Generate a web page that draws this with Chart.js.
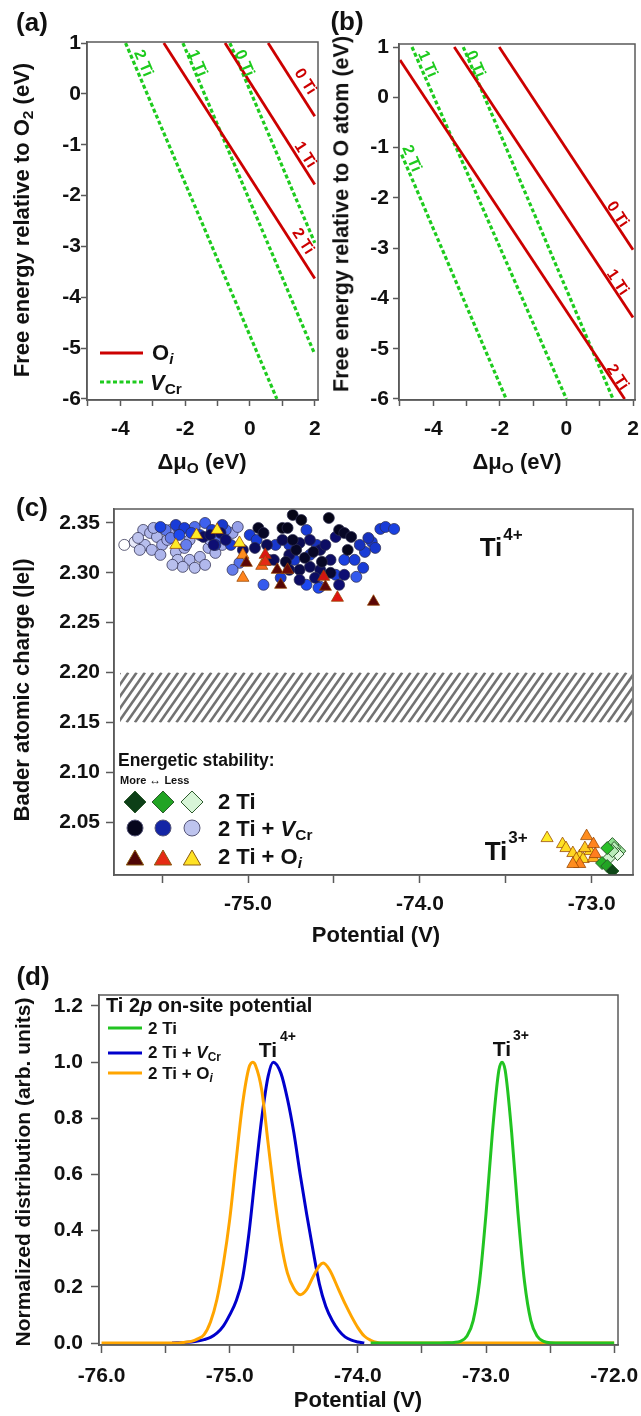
<!DOCTYPE html>
<html>
<head>
<meta charset="utf-8">
<script src="https://cdn.jsdelivr.net/npm/chart.js@4.4.0/dist/chart.umd.min.js"></script>
<style>
  body { margin: 0; background: #fff; width: 641px; height: 1416px; position: relative; overflow: hidden;
         font-family: "Liberation Sans", Arial, sans-serif; font-weight: bold; color: #111; }
  canvas { position: absolute; }
  .t { position: absolute; transform: translate(-50%, -50%); white-space: nowrap; line-height: 1; z-index: 2; }
  .l { position: absolute; transform: translate(0, -50%); white-space: nowrap; line-height: 1; z-index: 2; }
  .v { transform: translate(-50%, -50%) rotate(-90deg); }
  sub { font-size: 0.7em; vertical-align: -0.28em; line-height: 0; }
</style>
</head>
<body>
<canvas id="chartA" style="left:0;top:0;width:320px;height:480px" width="320" height="480"></canvas>
<canvas id="chartB" style="left:320px;top:0;width:321px;height:480px" width="321" height="480"></canvas>
<canvas id="chartC" style="left:0;top:480px;width:641px;height:470px" width="641" height="470"></canvas>
<canvas id="chartD" style="left:0;top:950px;width:641px;height:466px" width="641" height="466"></canvas>

<div class="t" style="left:32px;top:22px;font-size:26px">(a)</div>
<div class="t" style="left:347px;top:21px;font-size:26px">(b)</div>
<div class="t" style="left:32px;top:507px;font-size:26px">(c)</div>
<div class="t" style="left:33px;top:976px;font-size:26px">(d)</div>

<div class="t v" style="left:22px;top:220px;font-size:22px">Free energy relative to O<sub>2</sub> (eV)</div>
<div class="t" style="left:202px;top:462px;font-size:22px">Δμ<sub>O</sub> (eV)</div>
<div class="l" style="left:152px;top:353px;font-size:22px">O<sub><i>i</i></sub></div>
<div class="l" style="left:150px;top:383px;font-size:22px"><i>V</i><sub>Cr</sub></div>

<div class="t v" style="left:342px;top:214px;font-size:21.5px">Free energy relative to O atom (eV)</div>
<div class="t" style="left:517px;top:462px;font-size:22px">Δμ<sub>O</sub> (eV)</div>

<div class="t v" style="left:22px;top:690px;font-size:22px">Bader atomic charge (|e|)</div>
<div class="t" style="left:376px;top:935px;font-size:22px">Potential (V)</div>
<div class="t" style="left:491px;top:547px;font-size:26px">Ti</div>
<div class="t" style="left:513px;top:534px;font-size:17px">4+</div>
<div class="t" style="left:496px;top:851px;font-size:26px">Ti</div>
<div class="t" style="left:518px;top:837px;font-size:17px">3+</div>
<div class="l" style="left:118px;top:761px;font-size:17.5px">Energetic stability:</div>
<div class="l" style="left:120px;top:780px;font-size:11px">More <span style="font-size:12px">↔</span> Less</div>
<div class="l" style="left:218px;top:802px;font-size:22px">2 Ti</div>
<div class="l" style="left:218px;top:829px;font-size:22px">2 Ti + <i>V</i><sub>Cr</sub></div>
<div class="l" style="left:218px;top:857px;font-size:22px">2 Ti + O<sub><i>i</i></sub></div>

<div class="t v" style="left:22px;top:1172px;font-size:21px">Normalized distribution (arb. units)</div>
<div class="t" style="left:358px;top:1400px;font-size:22px">Potential (V)</div>
<div class="l" style="left:106px;top:1005px;font-size:20px">Ti 2<i>p</i> on-site potential</div>
<div class="l" style="left:148px;top:1028px;font-size:17px">2 Ti</div>
<div class="l" style="left:148px;top:1052px;font-size:17px">2 Ti + <i>V</i><sub>Cr</sub></div>
<div class="l" style="left:148px;top:1073px;font-size:17px">2 Ti + O<sub><i>i</i></sub></div>
<div class="t" style="left:268px;top:1049px;font-size:21px">Ti</div>
<div class="t" style="left:288px;top:1036px;font-size:14px">4+</div>
<div class="t" style="left:502px;top:1048px;font-size:21px">Ti</div>
<div class="t" style="left:521px;top:1035px;font-size:14px">3+</div>

<script>
"use strict"

// ---- (a) / (b): formation free energy lines, each as [x0, y0, x1, y1] in eV ----
const tiCounts = ['0 Ti', '1 Ti', '2 Ti'];
const aOiLines = [[0.56, 1, 2, -0.44], [-0.77, 1, 2, -1.78], [-2.66, 1, 2, -3.63]];
const aVcrLines = [[-0.62, 1, 2, -2.93], [-2.07, 1, 2, -5.12], [-3.84, 1, 0.83, -6]];
const bOiLines = [[-2.02, 1, 2, -3.03], [-3.37, 1, 2, -4.38], [-5.0, 0.74, 1.75, -6]];
const bVcrLines = [[-3.1, 1, 1.4, -6], [-4.64, 1, 0, -6], [-4.95, -1.14, -1.81, -6]];
const abXTicks = [-5, -4, -3, -2, -1, 0, 1, 2];
const abYTicks = [-6, -5, -4, -3, -2, -1, 0, 1];

// ---- (c): Bader charge vs potential; s = stability (0 more stable .. 1 less stable) ----
const vcrX = [-75.72, -75.66, -75.61, -75.57, -75.53, -75.60, -75.63, -75.56, -75.50, -75.47,
  -75.42, -75.37, -75.41, -75.34, -75.28, -75.23, -75.19, -75.15, -75.31, -75.38,
  -75.44, -75.25, -75.51, -75.64, -75.09, -75.06, -75.22, -75.34, -75.55, -75.45,
  -75.48, -75.40, -75.31, -75.25, -75.45, -75.36, -75.17, -75.13, -75.05, -75.09,
  -74.91, -74.58, -75.51, -75.42, -75.37, -75.28, -75.21, -75.15, -75.40, -75.33,
  -75.10, -75.19, -74.99, -74.95, -74.88, -74.84, -74.76, -74.73, -74.64, -74.66,
  -74.60, -74.49, -74.44, -74.38, -74.33, -74.37, -74.28, -74.26, -74.32, -74.23,
  -74.20, -74.15, -74.30, -74.35, -74.66, -74.59, -74.81, -75.26, -75.22, -75.16,
  -75.13, -75.20, -75.03, -74.96, -74.89, -74.80, -74.76, -74.70, -74.64, -74.58,
  -74.76, -74.70, -74.64, -74.58, -74.52, -74.55, -74.49, -74.70, -74.61, -74.85,
  -74.44, -74.47, -74.74, -74.69, -74.53, -74.94, -74.80, -74.77, -74.91, -74.47,
  -74.44, -74.40, -74.42, -74.72, -74.67, -74.78, -74.57, -74.62, -74.52, -74.74];
const vcrY = [2.328, 2.331, 2.343, 2.340, 2.336, 2.328, 2.323, 2.323, 2.328, 2.333,
  2.321, 2.325, 2.313, 2.313, 2.316, 2.325, 2.320, 2.328, 2.305, 2.306,
  2.308, 2.308, 2.318, 2.335, 2.340, 2.346, 2.333, 2.333, 2.345, 2.343,
  2.343, 2.343, 2.346, 2.350, 2.335, 2.328, 2.335, 2.343, 2.310, 2.303,
  2.288, 2.286, 2.346, 2.348, 2.345, 2.338, 2.343, 2.348, 2.338, 2.340,
  2.328, 2.328, 2.338, 2.333, 2.313, 2.328, 2.328, 2.313, 2.318, 2.343,
  2.328, 2.298, 2.313, 2.313, 2.305, 2.296, 2.331, 2.325, 2.321, 2.344,
  2.346, 2.344, 2.335, 2.328, 2.288, 2.285, 2.295, 2.336, 2.338, 2.340,
  2.333, 2.328, 2.323, 2.325, 2.328, 2.333, 2.318, 2.330, 2.333, 2.323,
  2.303, 2.303, 2.306, 2.303, 2.313, 2.328, 2.336, 2.293, 2.295, 2.313,
  2.298, 2.288, 2.358, 2.353, 2.355, 2.345, 2.345, 2.345, 2.340, 2.343,
  2.340, 2.336, 2.323, 2.323, 2.315, 2.311, 2.311, 2.321, 2.300, 2.333];
const vcrS = [1.0, 0.97, 0.9, 0.88, 0.88, 0.9, 0.92, 0.88, 0.85, 0.85,
  0.88, 0.86, 0.9, 0.88, 0.88, 0.85, 0.87, 0.85, 0.9, 0.9,
  0.9, 0.88, 0.87, 0.92, 0.82, 0.8, 0.84, 0.84, 0.86, 0.84,
  0.68, 0.65, 0.66, 0.62, 0.7, 0.7, 0.66, 0.64, 0.66, 0.7,
  0.6, 0.62, 0.52, 0.5, 0.5, 0.48, 0.5, 0.48, 0.55, 0.52,
  0.5, 0.45, 0.5, 0.5, 0.5, 0.48, 0.45, 0.48, 0.5, 0.5,
  0.45, 0.5, 0.52, 0.5, 0.5, 0.6, 0.5, 0.48, 0.5, 0.5,
  0.5, 0.52, 0.45, 0.45, 0.55, 0.55, 0.5, 0.25, 0.22, 0.25,
  0.28, 0.3, 0.25, 0.22, 0.2, 0.2, 0.22, 0.2, 0.25, 0.22,
  0.2, 0.15, 0.2, 0.22, 0.25, 0.25, 0.28, 0.25, 0.25, 0.22,
  0.3, 0.3, 0.0, 0.0, 0.0, 0.03, 0.0, 0.02, 0.05, 0.03,
  0.05, 0.05, 0.02, 0.05, 0.05, 0.08, 0.05, 0.05, 0.08, 0.05];

const oiX = [-75.42, -75.30, -75.18, -75.05, -75.03, -75.03, -74.92, -74.90, -74.90, -74.56,
  -74.48, -75.01, -74.83, -74.81, -74.77, -74.55, -74.27,
  -73.26, -73.17, -73.15, -73.11, -73.07, -73.09, -73.05, -73.01, -73.04, -72.99,
  -73.03, -72.99, -72.98, -73.07, -73.11];
const oiY = [2.328, 2.338, 2.343, 2.330, 2.318, 2.295, 2.307, 2.318, 2.311, 2.296,
  2.275, 2.310, 2.303, 2.288, 2.303, 2.286, 2.271,
  2.034, 2.028, 2.024, 2.019, 2.016, 2.013, 2.013, 2.021, 2.024, 2.014,
  2.036, 2.028, 2.018, 2.008, 2.008];
const oiS = [0.95, 0.95, 0.95, 0.95, 0.65, 0.62, 0.55, 0.35, 0.4, 0.32,
  0.35, 0.05, 0.05, 0.03, 0.08, 0.05, 0.05,
  0.95, 0.92, 0.9, 0.88, 0.9, 0.85, 0.9, 0.88, 0.85, 0.75,
  0.65, 0.62, 0.6, 0.62, 0.65];

const tiX = [-72.88, -72.84, -72.87, -72.85, -72.90, -72.88, -72.91, -72.94, -72.91, -72.88];
const tiY = [2.028, 2.021, 2.024, 2.018, 2.014, 2.021, 2.024, 2.009, 2.006, 2.001];
const tiS = [0.75, 0.8, 0.85, 0.95, 0.9, 0.85, 0.5, 0.45, 0.4, 0.05];

const hatchX = [-75.745, -72.765];
const hatchY = [2.15, 2.20];
const cXTicks = [-75.5, -75.0, -74.5, -74.0, -73.5, -73.0];
const cYTicks = [2.05, 2.10, 2.15, 2.20, 2.25, 2.30, 2.35];
const stabilityLevels = [0.02, 0.4, 0.92];

// ---- (d): normalized distribution of the Ti 2p on-site potential ----
const dTiX = [-73.9, -73.4, -73.3, -73.25, -73.2, -73.15, -73.1, -73.05, -73.0, -72.95, -72.9,
  -72.875, -72.85, -72.8, -72.75, -72.7, -72.65, -72.6, -72.55, -72.5, -72.4, -72.0];
const dTiY = [0, 0, 0.001, 0.002, 0.006, 0.024, 0.08, 0.22, 0.46, 0.75, 0.97,
  1.0, 0.97, 0.75, 0.46, 0.22, 0.08, 0.024, 0.006, 0.001, 0, 0];
const dVcrX = [-75.45, -75.35, -75.3, -75.25, -75.2, -75.15, -75.1, -75.05, -75.0, -74.95, -74.9,
  -74.85, -74.8, -74.75, -74.7, -74.66, -74.6, -74.55, -74.5, -74.45, -74.4, -74.35, -74.3,
  -74.25, -74.2, -74.15, -74.1, -74.05, -74.0, -73.95];
const dVcrY = [0, 0.002, 0.004, 0.007, 0.012, 0.02, 0.035, 0.06, 0.1, 0.15, 0.23,
  0.39, 0.6, 0.8, 0.95, 1.0, 0.96, 0.87, 0.75, 0.6, 0.46, 0.33, 0.21,
  0.13, 0.08, 0.045, 0.022, 0.01, 0.004, 0];
const dOiX = [-76.0, -75.4, -75.35, -75.3, -75.25, -75.2, -75.15, -75.1, -75.05, -75.0, -74.95,
  -74.9, -74.85, -74.82, -74.8, -74.75, -74.7, -74.65, -74.6, -74.55, -74.5, -74.45, -74.4,
  -74.35, -74.3, -74.27, -74.22, -74.15, -74.1, -74.05, -74.0, -73.95, -73.9, -73.85, -73.8, -72.0];
const dOiY = [0, 0, 0.003, 0.006, 0.015, 0.03, 0.075, 0.155, 0.28, 0.44, 0.65,
  0.85, 0.98, 1.0, 0.99, 0.9, 0.71, 0.52, 0.36, 0.25, 0.195, 0.172, 0.19,
  0.235, 0.275, 0.285, 0.26, 0.19, 0.14, 0.095, 0.055, 0.025, 0.01, 0.002, 0, 0];
const dXTicks = [-76, -75.5, -75, -74.5, -74, -73.5, -73, -72.5, -72];
const dYTicks = [0, 0.2, 0.4, 0.6, 0.8, 1.0, 1.2];

// ---- styling ----
const FONT = '"Liberation Sans", Arial, sans-serif';
const INK = '#111';
const AXIS = '#5a5a5a';
const RED = '#cc0000';
const GREEN = '#1ecb1e';
const TICK_FONT = 21;
const circleRamp = [[0, [5, 5, 22]], [0.3, [14, 14, 115]], [0.55, [28, 72, 240]], [0.8, [150, 160, 232]], [0.92, [190, 196, 238]], [1, [255, 255, 255]]];
const triRamp = [[0, [70, 5, 5]], [0.35, [222, 22, 18]], [0.6, [255, 125, 30]], [0.8, [255, 190, 30]], [1, [255, 250, 40]]];
const diaRamp = [[0, [12, 58, 22]], [0.5, [40, 190, 40]], [0.85, [185, 236, 185]], [1, [250, 255, 250]]];

function ramp(stops, t) {
    for (let i = 1; i < stops.length; i++) {
        if (t <= stops[i][0]) {
            const [t0, c0] = stops[i - 1];
            const [t1, c1] = stops[i];
            const f = (t - t0) / (t1 - t0);
            return `rgb(${c0.map((c, k) => Math.round(c + (c1[k] - c) * f)).join(',')})`;
        }
    }
    return `rgb(${stops[stops.length - 1][1].join(',')})`;
}

function makeScale(o) {
    return {
        type: 'linear', position: o.position, min: o.min, max: o.max,
        afterBuildTicks: s => { s.ticks = o.ticks.map(v => ({ value: v })); },
        afterFit: s => {
            if (o.position === 'left') s.width = o.fit; else s.height = o.fit;
            s.paddingLeft = s.paddingRight = s.paddingTop = s.paddingBottom = 0;
        },
        grid: { drawOnChartArea: false, drawTicks: true, tickLength: o.tickLength, tickColor: AXIS, tickWidth: 1.5 },
        border: { display: true, color: AXIS, width: 1.5 },
        ticks: {
            autoSkip: false, maxRotation: 0, minRotation: 0, padding: o.padding, color: INK,
            font: { family: FONT, size: TICK_FONT, weight: 'bold' },
            callback: o.format
        }
    };
}

// draws the closed frame round the plot area
const framePlugin = {
    id: 'frame',
    afterDraw(chart) {
        const { ctx, chartArea: a } = chart;
        ctx.save();
        ctx.strokeStyle = AXIS;
        ctx.lineWidth = 1.5;
        ctx.strokeRect(a.left, a.top, a.right - a.left, a.bottom - a.top);
        ctx.restore();
    }
};

function marker(ctx, style, x, y, r, fill, stroke) {
    ctx.save();
    ctx.beginPath();
    if (style === 'circle') {
        ctx.arc(x, y, r, 0, Math.PI * 2);
    } else if (style === 'triangle') {
        ctx.moveTo(x, y - r);
        ctx.lineTo(x + r * 0.866, y + r * 0.5);
        ctx.lineTo(x - r * 0.866, y + r * 0.5);
        ctx.closePath();
    } else {
        ctx.moveTo(x - r, y); ctx.lineTo(x, y - r); ctx.lineTo(x + r, y); ctx.lineTo(x, y + r);
        ctx.closePath();
    }
    ctx.fillStyle = fill;
    ctx.fill();
    ctx.strokeStyle = stroke;
    ctx.lineWidth = 1;
    ctx.stroke();
    ctx.restore();
}

function lineSets(lines, color, dashed) {
    return lines.map((l, i) => ({
        label: tiCounts[i],
        data: [{ x: l[0], y: l[1] }, { x: l[2], y: l[3] }],
        showLine: true, borderColor: color, borderWidth: dashed ? 3.2 : 2.8, pointRadius: 0,
        borderDash: dashed ? [4, 2.5] : []
    }));
}

// rotated "n Ti" labels that follow the direction of their line
function lineLabelPlugin(labels) {
    return {
        id: 'lineLabels',
        afterDatasetsDraw(chart) {
            const { ctx, scales: { x, y } } = chart;
            labels.forEach(l => {
                const [x0, y0, x1, y1] = l.line;
                const ang = Math.atan2(y.getPixelForValue(y1) - y.getPixelForValue(y0),
                    x.getPixelForValue(x1) - x.getPixelForValue(x0));
                ctx.save();
                ctx.translate(x.getPixelForValue(l.x), y.getPixelForValue(l.y));
                ctx.rotate(ang);
                ctx.font = `bold 16px ${FONT}`;
                ctx.textAlign = 'center';
                ctx.textBaseline = 'middle';
                ctx.fillStyle = l.color;
                ctx.fillText(l.text, 0, 0);
                ctx.restore();
            });
        }
    };
}

function energyChart(id, oiLines, vcrLines, labels, geo, legend) {
    const extras = {
        id: 'extras',
        afterDraw(chart) {
            if (!legend) return;
            const ctx = chart.ctx;
            ctx.save();
            ctx.lineWidth = 3;
            ctx.strokeStyle = RED;
            ctx.beginPath(); ctx.moveTo(100, 353); ctx.lineTo(143, 353); ctx.stroke();
            ctx.strokeStyle = GREEN;
            ctx.setLineDash([4, 2.5]);
            ctx.beginPath(); ctx.moveTo(100, 382); ctx.lineTo(143, 382); ctx.stroke();
            ctx.restore();
        }
    };
    new Chart(document.getElementById(id), {
        type: 'scatter',
        data: { datasets: [...lineSets(oiLines, RED, false), ...lineSets(vcrLines, GREEN, true)] },
        options: {
            responsive: false, animation: false, devicePixelRatio: 1,
            layout: { padding: { top: geo.top, right: geo.right, left: 0, bottom: 0 } },
            plugins: { legend: { display: false }, tooltip: { enabled: false } },
            scales: {
                x: makeScale({ position: 'bottom', min: -5.03, max: geo.xMax, ticks: abXTicks, fit: 80,
                    tickLength: 6, padding: 11, format: v => (v % 2 === 0 ? String(v) : '') }),
                y: makeScale({ position: 'left', min: -6.02, max: geo.yMax, ticks: abYTicks, fit: geo.left,
                    tickLength: 6, padding: geo.yPad, format: v => String(v) })
            }
        },
        plugins: [framePlugin, lineLabelPlugin(labels), extras]
    });
}

energyChart('chartA', aOiLines, aVcrLines, [
    { text: '2 Ti', x: -3.30, y: 0.60, color: GREEN, line: aVcrLines[2] },
    { text: '1 Ti', x: -1.63, y: 0.60, color: GREEN, line: aVcrLines[1] },
    { text: '0 Ti', x: -0.18, y: 0.60, color: GREEN, line: aVcrLines[0] },
    { text: '0 Ti', x: 1.70, y: 0.24, color: RED, line: aOiLines[0] },
    { text: '1 Ti', x: 1.70, y: -1.2, color: RED, line: aOiLines[1] },
    { text: '2 Ti', x: 1.63, y: -2.9, color: RED, line: aOiLines[2] }
], { top: 42, right: 2, left: 87, xMax: 2.1, yMax: 1.02, yPad: 0 }, true);

energyChart('chartB', bOiLines, bVcrLines, [
    { text: '1 Ti', x: -4.18, y: 0.66, color: GREEN, line: bVcrLines[1] },
    { text: '0 Ti', x: -2.74, y: 0.66, color: GREEN, line: bVcrLines[0] },
    { text: '2 Ti', x: -4.66, y: -1.22, color: GREEN, line: bVcrLines[2] },
    { text: '0 Ti', x: 1.53, y: -2.33, color: RED, line: bOiLines[0] },
    { text: '1 Ti', x: 1.53, y: -3.68, color: RED, line: bOiLines[1] },
    { text: '2 Ti', x: 1.53, y: -5.57, color: RED, line: bOiLines[2] }
], { top: 44, right: 6, left: 79, xMax: 2.06, yMax: 1.06, yPad: 4 }, false);

// ---- (c) ----
const hatchPlugin = {
    id: 'hatch',
    beforeDatasetsDraw(chart) {
        const { ctx, scales: { x, y } } = chart;
        const left = x.getPixelForValue(hatchX[0]);
        const right = x.getPixelForValue(hatchX[1]);
        const top = y.getPixelForValue(hatchY[1]);
        const bottom = y.getPixelForValue(hatchY[0]);
        const slant = (bottom - top) * 0.7;
        ctx.save();
        ctx.beginPath();
        ctx.rect(left, top, right - left, bottom - top);
        ctx.clip();
        ctx.strokeStyle = '#727272';
        ctx.lineWidth = 2.6;
        for (let sx = left - slant; sx < right + 8; sx += 8.3) {
            ctx.beginPath();
            ctx.moveTo(sx, bottom);
            ctx.lineTo(sx + slant, top);
            ctx.stroke();
        }
        ctx.restore();
    }
};

const stabilityLegend = {
    id: 'stabilityLegend',
    afterDraw(chart) {
        const ctx = chart.ctx;
        const cols = [135, 163, 192];
        stabilityLevels.forEach((s, i) => {
            marker(ctx, 'diamond', cols[i], 322, 11, ramp(diaRamp, s), '#2d5a2d');
            marker(ctx, 'circle', cols[i], 348, 8, ramp(circleRamp, s), '#555577');
            marker(ctx, 'triangle', cols[i], 380, 10, ramp(triRamp, s), '#8a5a10');
        });
    }
};

function pts(xs, ys) { return xs.map((x, i) => ({ x, y: ys[i] })); }

new Chart(document.getElementById('chartC'), {
    type: 'scatter',
    data: {
        datasets: [
            { label: '2 Ti', data: pts(tiX, tiY), pointStyle: 'rectRot', pointRadius: 6.5, borderWidth: 1,
              pointBackgroundColor: tiS.map(s => ramp(diaRamp, s)), pointBorderColor: '#2a5e2a' },
            { label: '2 Ti + Oi', data: pts(oiX, oiY), pointStyle: 'triangle', pointRadius: 7, borderWidth: 1,
              pointBackgroundColor: oiS.map(s => ramp(triRamp, s)), pointBorderColor: 'rgba(150,70,0,0.75)' },
            { label: '2 Ti + VCr', data: pts(vcrX, vcrY), pointStyle: 'circle', pointRadius: 5.5, borderWidth: 1,
              pointBackgroundColor: vcrS.map(s => ramp(circleRamp, s)), pointBorderColor: 'rgba(45,45,80,0.75)' }
        ]
    },
    options: {
        responsive: false, animation: false, devicePixelRatio: 1,
        layout: { padding: { top: 29, right: 8, left: 0, bottom: 0 } },
        plugins: { legend: { display: false }, tooltip: { enabled: false } },
        scales: {
            x: makeScale({ position: 'bottom', min: -75.78, max: -72.76, ticks: cXTicks, fit: 75,
                tickLength: 8, padding: 9, format: v => (Number.isInteger(v) ? v.toFixed(1) : '') }),
            y: makeScale({ position: 'left', min: 1.997, max: 2.364, ticks: cYTicks, fit: 114,
                tickLength: 8, padding: 6, format: v => v.toFixed(2) })
        }
    },
    plugins: [hatchPlugin, framePlugin, stabilityLegend]
});

// ---- (d) ----
const dLegend = {
    id: 'dLegend',
    afterDraw(chart) {
        const ctx = chart.ctx;
        ctx.save();
        ctx.lineWidth = 3;
        [['#22c422', 78], ['#0000cc', 103], ['#ffa500', 123]].forEach(([c, yy]) => {
            ctx.strokeStyle = c;
            ctx.beginPath(); ctx.moveTo(108, yy); ctx.lineTo(142, yy); ctx.stroke();
        });
        ctx.restore();
    }
};

function curve(label, xs, ys, color) {
    return { label, data: pts(xs, ys), showLine: true, borderColor: color, borderWidth: 3,
             pointRadius: 0, cubicInterpolationMode: 'monotone' };
}

new Chart(document.getElementById('chartD'), {
    type: 'scatter',
    data: {
        datasets: [
            curve('2 Ti', dTiX, dTiY, '#22c422'),
            curve('2 Ti + Oi', dOiX, dOiY, '#ffa500'),
            curve('2 Ti + VCr', dVcrX, dVcrY, '#0000cc')
        ]
    },
    options: {
        responsive: false, animation: false, devicePixelRatio: 1,
        layout: { padding: { top: 45, right: 23, left: 0, bottom: 0 } },
        plugins: { legend: { display: false }, tooltip: { enabled: false } },
        scales: {
            x: makeScale({ position: 'bottom', min: -76.02, max: -71.97, ticks: dXTicks, fit: 71,
                tickLength: 8, padding: 11, format: v => (Number.isInteger(v) ? v.toFixed(1) : '') }),
            y: makeScale({ position: 'left', min: -0.007, max: 1.239, ticks: dYTicks, fit: 99,
                tickLength: 8, padding: 8, format: v => v.toFixed(1) })
        }
    },
    plugins: [framePlugin, dLegend]
});
</script>
</body>
</html>
